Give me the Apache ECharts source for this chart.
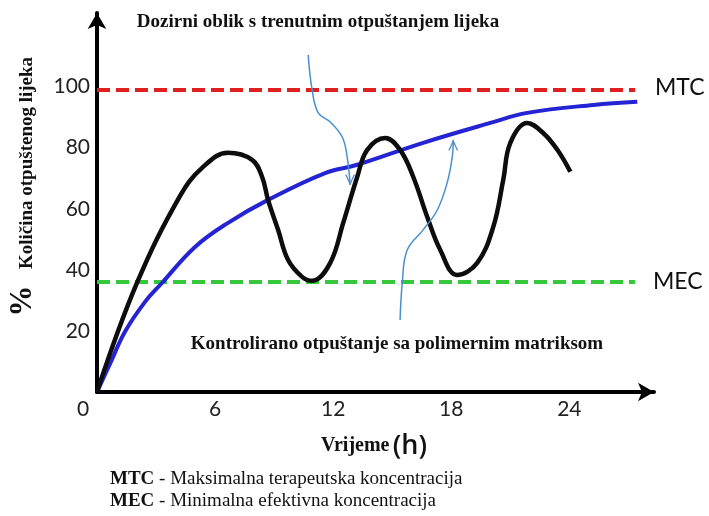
<!DOCTYPE html>
<html>
<head>
<meta charset="utf-8">
<script src="https://cdn.jsdelivr.net/npm/echarts@6/dist/echarts.min.js"></script>
<style>
  html, body { margin: 0; padding: 0; background: #fff; }
  #chart { width: 709px; height: 516px; }
</style>
</head>
<body>
<div id="chart"></div>
<script>
// vrijeme (h) / količina (%)
var brziOblik = [
  [0, 0], [2.03, 35.7], [4.22, 64.2], [5.34, 73.4],
  [6.66, 78.3], [7.88, 76.0], [8.39, 70.4], [8.69, 62.9], [9.20, 53.1], [9.71, 43.2],
  [10.42, 37.7], [10.93, 36.4], [11.85, 42.3], [12.51, 55.4], [13.22, 70.4], [13.73, 79.3],
  [14.64, 83.2], [15.40, 79.3], [16.07, 70.4], [16.78, 57.3], [17.44, 46.5], [18.30, 38.3],
  [19.32, 42.3], [20.13, 54.0], [20.64, 69.4], [21.00, 81.6], [21.86, 88.1], [22.67, 84.8],
  [23.39, 79.3], [24.05, 72.1]
];
var kontroliraniOblik = [
  [0, 0], [0.66, 9.2], [1.42, 19.7], [2.44, 29.5], [3.30, 35.7], [4.98, 47.5], [6.66, 55.4],
  [8.69, 62.9], [11.59, 71.7], [13.22, 74.4], [16.57, 81.6], [19.98, 88.1],
  [21.86, 91.4], [25.22, 94.0], [27.45, 95.0]
];
var mtc = 98.9;
var mec = 36.0;
var granicaKraj = 27.34;
// tanke strelice (napomene)
var strelica1 = [[10.73, 110.4], [10.93, 98.9], [11.24, 91.4], [11.85, 88.4], [12.46, 83.5], [12.71, 77.0], [12.86, 67.8]];
var strelica2 = [[15.40, 23.6], [15.51, 35.7], [15.76, 46.5], [16.57, 53.1], [17.29, 59.6], [17.79, 68.5], [18.05, 77.0], [18.10, 82.5]];
var xTicks = [0, 6, 12, 18, 24];
var yTicks = [20, 40, 60, 80, 100];

var serif = '"Liberation Serif", "Times New Roman", serif';
var sans = 'Lato, "Open Sans", sans-serif';
var arrowColor = '#4a8fcf';

function withHead(points, path, offsetY) {
  var out = points.slice(0, -1);
  var last = points[points.length - 1];
  out.push({
    value: last,
    symbol: path,
    symbolSize: [10, 11],
    symbolOffset: [0, offsetY],
    itemStyle: { color: arrowColor }
  });
  return out;
}

var myChart = echarts.init(document.getElementById('chart'));
myChart.setOption({
  backgroundColor: '#fff',
  animation: false,
  grid: { left: 97, top: 13, right: 55, bottom: 124 },
  xAxis: {
    type: 'value',
    min: 0,
    max: 28.3,
    interval: 6,
    splitLine: { show: false },
    axisTick: { show: false },
    axisLine: {
      lineStyle: { color: '#000', width: 4 },
      symbol: ['none', 'arrow'],
      symbolSize: [14, 16]
    },
    axisLabel: {
      margin: 7,
      color: '#222',
      fontFamily: sans,
      fontSize: 21,
      formatter: function (v) {
        if (xTicks.indexOf(v) < 0) return '';
        if (v === 0) return '{o|0}';
        return String(v);
      },
      rich: {
        o: { fontFamily: sans, fontSize: 21, color: '#222', padding: [0, 28, 0, 0] }
      }
    }
  },
  yAxis: {
    type: 'value',
    min: 0,
    max: 124.1,
    interval: 20,
    splitLine: { show: false },
    axisTick: { show: false },
    axisLine: {
      lineStyle: { color: '#000', width: 4 },
      symbol: ['none', 'arrow'],
      symbolSize: [14, 16]
    },
    axisLabel: {
      margin: 7,
      color: '#222',
      fontFamily: sans,
      fontSize: 21,
      formatter: function (v) {
        return yTicks.indexOf(v) < 0 ? '' : String(v);
      }
    }
  },
  series: [
    {
      type: 'line', symbol: 'none', silent: true,
      data: [[0, mtc], [granicaKraj, mtc]],
      lineStyle: { color: '#e0201f', width: 4, type: [13, 6] }
    },
    {
      type: 'line', symbol: 'none', silent: true,
      data: [[0, mec], [granicaKraj, mec]],
      lineStyle: { color: '#34c83a', width: 4, type: [13, 6] }
    },
    {
      type: 'line', symbol: 'none', smooth: 0.4, silent: true,
      data: kontroliraniOblik,
      lineStyle: { color: '#2424d4', width: 4 }
    },
    {
      type: 'line', symbol: 'none', smooth: 0.4, silent: true,
      data: brziOblik,
      lineStyle: { color: '#0d0d0d', width: 4.5 }
    },
    {
      type: 'line', symbol: 'none', showSymbol: true, smooth: 0.4, silent: true,
      data: withHead(strelica1, 'path://M0,0 L5,10 L10,0 L8.6,0 L5,7.4 L1.4,0 Z', -5),
      lineStyle: { color: arrowColor, width: 1.5 }
    },
    {
      type: 'line', symbol: 'none', showSymbol: true, smooth: 0.4, silent: true,
      data: withHead(strelica2, 'path://M0,10 L5,0 L10,10 L8.6,10 L5,2.6 L1.4,10 Z', 5),
      lineStyle: { color: arrowColor, width: 1.5 }
    }
  ],
  graphic: [
    {
      type: 'text', x: 318, y: 22,
      style: { text: 'Dozirni oblik s trenutnim otpuštanjem lijeka', font: 'bold 19px ' + serif, fill: '#111', align: 'center', verticalAlign: 'middle' }
    },
    {
      type: 'text', x: 397, y: 344,
      style: { text: 'Kontrolirano otpuštanje sa polimernim matriksom', font: 'bold 19px ' + serif, fill: '#111', align: 'center', verticalAlign: 'middle' }
    },
    {
      type: 'text', x: 655, y: 88,
      style: { text: 'MTC', font: '23px ' + sans, fill: '#111', align: 'left', verticalAlign: 'middle' }
    },
    {
      type: 'text', x: 653, y: 282,
      style: { text: 'MEC', font: '23px ' + sans, fill: '#111', align: 'left', verticalAlign: 'middle' }
    },
    {
      type: 'text', x: 23, y: 301, rotation: Math.PI / 2,
      style: { text: '%', font: 'bold 31px ' + serif, fill: '#111', align: 'center', verticalAlign: 'middle' }
    },
    {
      type: 'text', x: 27, y: 163, rotation: Math.PI / 2,
      style: { text: 'Količina otpuštenog lijeka', font: 'bold 19px ' + serif, fill: '#111', align: 'center', verticalAlign: 'middle' }
    },
    {
      type: 'text', x: 321, y: 446,
      style: {
        text: '{a|Vrijeme} {b|(h)}', align: 'left', verticalAlign: 'middle',
        rich: {
          a: { font: 'bold 20px ' + serif, fill: '#111' },
          b: { font: '600 27px "Open Sans", sans-serif', fill: '#111' }
        }
      }
    },
    {
      type: 'text', x: 110, y: 479,
      style: {
        text: '{b|MTC} - Maksimalna terapeutska koncentracija', font: '19px ' + serif, fill: '#111', align: 'left', verticalAlign: 'middle',
        rich: { b: { font: 'bold 19px ' + serif, fill: '#111' } }
      }
    },
    {
      type: 'text', x: 110, y: 501,
      style: {
        text: '{b|MEC} - Minimalna efektivna koncentracija', font: '19px ' + serif, fill: '#111', align: 'left', verticalAlign: 'middle',
        rich: { b: { font: 'bold 19px ' + serif, fill: '#111' } }
      }
    }
  ]
});
</script>
</body>
</html>
